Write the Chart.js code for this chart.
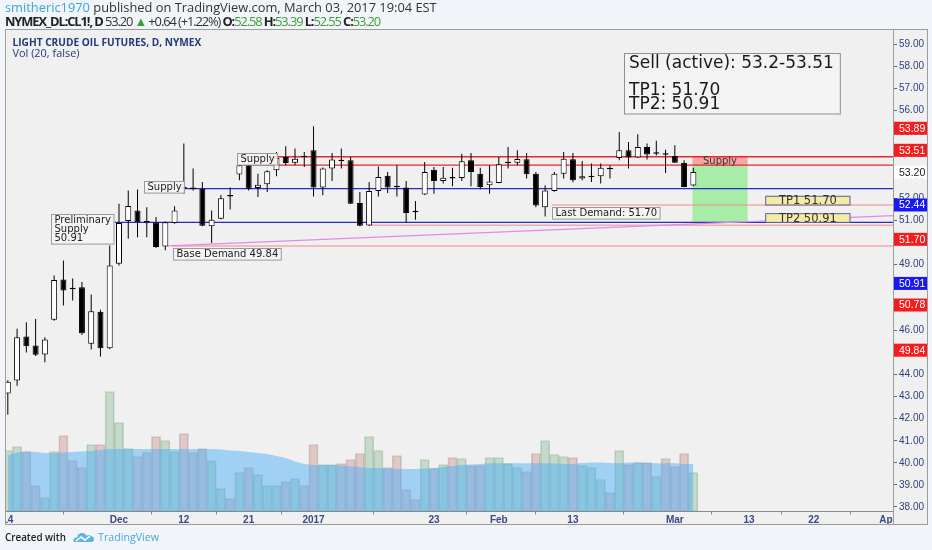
<!DOCTYPE html>
<html><head><meta charset="utf-8">
<script src="https://cdn.jsdelivr.net/npm/chart.js@4.4.1/dist/chart.umd.min.js"></script>
<style>
html,body{margin:0;padding:0;background:#f1f4f8;width:932px;height:550px;overflow:hidden;font-family:'Open Sans',sans-serif;}
#wrap{position:relative;width:932px;height:550px;}
canvas{position:absolute;left:0;top:0;}
.t{position:absolute;white-space:nowrap;}
.g{color:#3c9d3c;}
</style></head>
<body><div id="wrap">
<canvas id="c" width="932" height="550" style="width:932px;height:550px"></canvas>
<div id="row1" class="t fit" data-w="432" style="left:5px;top:0px;font-size:12px;line-height:14px;color:#333"><span style="color:#3fa4da">smitheric1970</span> published on TradingView.com, March 03, 2017 19:04 EST</div>
<div id="row2" class="t" data-w="375" style="left:5px;top:13.5px;font-size:12px;line-height:14px;color:#333"><b style="color:#222">NYMEX_DL:CL1!, D</b> 53.20 <span class="g">▲</span> +0.64 (+1.22%) <b style="color:#222">O:</b><span class="g">52.58</span> <b style="color:#222">H:</b><span class="g">53.39</span> <b style="color:#222">L:</b><span class="g">52.55</span> <b style="color:#222">C:</b><span class="g">53.20</span></div>
<div class="t fit" data-w="189" style="left:12.5px;top:36px;font-size:10px;line-height:12px;font-weight:bold;color:#233b77">LIGHT CRUDE OIL FUTURES, D, NYMEX</div>
<div class="t fit" data-w="67" style="left:12.5px;top:47px;font-size:10.5px;line-height:12px;color:#233b77">Vol (20, false)</div>
<div class="t fit" data-w="61" style="left:5px;top:530px;font-size:10.5px;line-height:14px;color:#222;font-weight:600">Created with</div>
<svg class="t" style="left:73px;top:530px" width="22" height="14" viewBox="0 0 22 14">
<path d="M2 12 Q0 12 0.5 9.5 Q1.5 7 4 7.5 Q5 3 9 3 Q12.5 3 13.5 6 Q15 4.5 17 5.5 Q21.5 6.5 21 10 Q20.5 12 18.5 12 Z" fill="#5db3e4"/>
<path d="M3 11 L8 7 L12 10 L17 6" stroke="#fff" stroke-width="1.6" fill="none"/>
</svg>
<div class="t fit" data-w="61" style="left:98px;top:530px;font-size:11px;line-height:14px;color:#49a9dc">TradingView</div>
</div>
<script>
// fit header/footer texts to the widths they occupy in the reference
document.querySelectorAll('.fit').forEach(el => {
  const target = +el.dataset.w;
  for (let k = 0; k < 3; k++) {
    const w = el.getBoundingClientRect().width;
    const fs = parseFloat(getComputedStyle(el).fontSize);
    if (w > 0) el.style.fontSize = (fs * target / w).toFixed(2) + 'px';
  }
});
(function(){
  const r1 = document.getElementById('row1'), r2 = document.getElementById('row2');
  r2.style.fontSize = getComputedStyle(r1).fontSize;
  const w = r2.getBoundingClientRect().width, n = r2.textContent.length;
  r2.style.letterSpacing = ((+r2.dataset.w - w) / n).toFixed(3) + 'px';
})();

// ---------- data ----------
const dates = [
 '2016-11-14','2016-11-15','2016-11-16','2016-11-17','2016-11-18','2016-11-21','2016-11-22','2016-11-23','2016-11-25','2016-11-28','2016-11-29','2016-11-30',
 '2016-12-01','2016-12-02','2016-12-05','2016-12-06','2016-12-07','2016-12-08','2016-12-09','2016-12-12','2016-12-13','2016-12-14','2016-12-15','2016-12-16',
 '2016-12-19','2016-12-20','2016-12-21','2016-12-22','2016-12-23','2016-12-27','2016-12-28','2016-12-29','2016-12-30',
 '2017-01-03','2017-01-04','2017-01-05','2017-01-06','2017-01-09','2017-01-10','2017-01-11','2017-01-12','2017-01-13','2017-01-17','2017-01-18','2017-01-19','2017-01-20',
 '2017-01-23','2017-01-24','2017-01-25','2017-01-26','2017-01-27','2017-01-30','2017-01-31',
 '2017-02-01','2017-02-02','2017-02-03','2017-02-06','2017-02-07','2017-02-08','2017-02-09','2017-02-10','2017-02-13','2017-02-14','2017-02-15','2017-02-16','2017-02-17',
 '2017-02-21','2017-02-22','2017-02-23','2017-02-24','2017-02-27','2017-02-28',
 '2017-03-01','2017-03-02','2017-03-03',
 '2017-03-06','2017-03-07','2017-03-08','2017-03-09','2017-03-10','2017-03-13','2017-03-14','2017-03-15','2017-03-16','2017-03-17',
 '2017-03-20','2017-03-21','2017-03-22','2017-03-23','2017-03-24','2017-03-27','2017-03-28','2017-03-29','2017-03-30','2017-03-31','2017-04-03'
];
const opens = [
 43.15,43.73,45.73,45.32,44.91,46.49,48.32,47.90,47.97,45.40,
 46.86,45.20,49.03,50.97,51.45,50.94,50.90,49.82,50.88,52.52,
 52.46,52.44,50.73,51.08,52.10,53.08,53.53,52.47,52.64,53.27,
 53.88,53.62,53.89,54.18,52.49,53.35,53.72,53.73,51.79,50.77,
 52.33,53.03,52.54,52.49,51.39,52.17,53.30,52.79,52.94,52.92,
 53.73,53.12,52.59,52.70,53.59,53.62,53.77,53.12,51.60,52.33,
 53.12,53.77,52.90,52.96,53.00,53.39,53.83,54.18,53.85,54.33,
 54.02,54.02,53.92,53.62,52.58];
const highs = [
 43.75,46.08,46.38,46.53,45.70,48.50,49.18,48.36,48.20,47.64,
 46.94,49.86,51.76,52.36,52.40,51.60,51.15,50.95,51.64,54.49,
 53.35,52.74,51.45,52.15,52.49,53.58,53.73,53.12,53.27,54.10,
 54.36,54.26,54.10,55.27,53.40,54.06,54.26,53.88,52.29,52.74,
 53.45,53.20,53.50,52.79,51.88,53.65,53.42,53.42,53.39,54.03,
 54.06,53.39,53.50,53.88,54.33,54.18,54.06,53.20,52.60,53.20,
 54.10,54.06,53.70,53.58,53.58,53.50,55.01,54.56,54.91,54.49,
 54.61,54.21,54.41,53.73,53.39];
const lows = [
 42.18,43.50,45.00,44.85,44.56,46.45,47.14,47.36,45.80,45.14,
 44.82,45.15,48.95,50.17,50.24,50.24,49.75,49.64,50.85,52.21,
 52.36,50.73,49.97,51.05,51.49,52.82,52.36,52.06,52.29,53.00,
 53.50,53.50,53.42,52.09,52.14,52.79,53.35,51.74,50.74,50.75,
 52.09,52.24,52.09,50.91,51.03,52.15,52.21,52.67,52.55,52.79,
 52.55,52.41,52.21,52.68,53.35,53.50,52.90,51.60,51.18,52.30,
 52.90,52.73,52.82,52.74,52.67,52.90,53.73,53.35,53.83,53.76,
 53.95,53.15,53.60,52.50,52.55];
const closes = [
 43.68,45.70,45.29,44.90,45.59,48.30,47.82,47.88,45.88,46.88,
 45.20,48.95,50.88,51.65,50.92,50.90,49.79,50.92,51.45,52.44,
 52.42,50.76,51.03,52.01,52.08,53.50,52.44,52.62,53.23,53.83,
 53.60,53.80,53.87,52.49,53.35,53.76,53.68,51.76,50.76,52.33,
 52.97,52.49,52.50,51.33,51.37,53.20,52.79,52.94,52.90,53.68,
 53.20,52.52,52.77,53.55,53.62,53.79,53.09,51.68,52.36,53.12,
 53.80,52.82,53.00,52.98,53.39,53.32,54.18,53.85,54.33,53.99,
 54.04,53.98,53.62,52.52,53.20];
const volume = [ // thousands of contracts
 305,325,300,130,70,300,380,255,220,335,
 335,600,445,315,275,295,375,355,300,390,
 295,315,255,115,65,195,220,185,130,130,
 150,165,130,335,235,235,240,260,290,375,
 305,220,280,110,60,260,215,235,270,265,
 230,230,270,270,240,220,200,290,355,285,
 275,270,230,220,160,95,305,235,245,245,
 175,265,225,290,195];
const volumeMA20 = [ // read from the shaded MA area
 280,295,300,297,292,291,295,297,300,302,
 307,312,313,313,313,313,313,313,313,313,
 313,313,313,310,305,302,297,292,287,277,
 267,250,237,233,233,232,230,225,222,218,
 217,215,213,213,213,215,217,222,227,232,
 235,237,241,241,241,241,241,241,241,240,
 238,238,242,245,245,242,241,245,245,242,
 241,241,241,238,238];
const xTickDates  = ['2016-11-14','2016-12-01','2016-12-12','2016-12-21','2017-01-03','2017-01-23','2017-02-01','2017-02-13','2017-03-01','2017-03-13','2017-03-22','2017-04-03'];
const xTickLabels = ['14','Dec','12','21','2017','23','Feb','13','Mar','13','22','Apr'];
const yTickValues = [38,39,40,41,42,43,44,45,46,47,48,49,50,51,52,53,54,55,56,57,58,59];

// drawn levels (price, start bar index, kind)
const levelPrices   = [53.89, 53.51, 52.44, 50.91, 51.70, 50.78, 49.84];
const levelStartIdx = [24.75, 24.75, 18.95, 11.55, 58.7, 39, 17.8];
const levelKinds    = ['supply','supply','key','key','demand','demand','demand'];
const trendStart = [17.3, 49.84];
const trendEnd   = [95.55, 51.22];
// zones [fromIdx, toIdx, topPrice, bottomPrice]
const supplyZone = [73.9, 79.85, 53.89, 53.51];
const targetZone = [73.9, 79.85, 53.51, 50.88];
// notes: text lines + anchor (bar index, price) at top-left
const noteTexts = [['Preliminary','Supply','50.91'], ['Supply'], ['Supply'], ['Base Demand 49.84'], ['Last Demand: 51.70']];
const noteAnchors = [[4.71, 51.30], [14.75, 52.79], [24.75, 54.08], [17.8, 49.74], [58.73, 51.60]];
const planText = ['Sell (active): 53.2-53.51', '', 'TP1: 51.70', 'TP2: 50.91'];
const planAnchor = [66.56, 58.60];
const tpTexts = ['TP1 51.70', 'TP2 50.91'];
const tpPrices = [51.70, 50.91];
const tpRange = [81.81, 90.91];
// price scale tags: value, kind, axis slot where the tag sits
const tagValues = [53.89, 53.51, 53.20, 52.44, 51.70, 50.91, 50.78, 49.84];
const tagKinds  = ['supply','supply','last','key','demand','key','demand','demand'];
const tagSlots  = [55.18, 54.18, 53.18, 51.70, 50.14, 48.14, 47.16, 45.11];

// ---------- styles ----------
const LINE_STYLE = {supply:{c:'rgba(228,30,34,0.95)', w:1.4}, key:{c:'#2a2ac4', w:1.4}, demand:{c:'rgba(240,150,150,0.75)', w:1.4}};
const TAG_STYLE = {supply:{bg:'#f41c1c', fg:'#fff'}, demand:{bg:'#f41c1c', fg:'#fff'}, key:{bg:'#1818f2', fg:'#fff'}, last:{bg:'#ffffff', fg:'#222'}};
const NOTE_FONT = "10px 'DejaVu Sans'";

const up = closes.map((c,i)=> c >= opens[i]);
const ctx = document.getElementById('c').getContext('2d');

const annot = {
  id:'annot',
  beforeDraw(chart){
    const c = chart.ctx; c.save();
    c.fillStyle = '#f0f0f0'; c.fillRect(5.5, 29.5, 922, 495);
    c.restore();
  },
  beforeDatasetsDraw(chart){
    const c = chart.ctx, xs = chart.scales.x, ys = chart.scales.y, a = chart.chartArea;
    c.save(); c.beginPath(); c.rect(a.left, a.top, a.right-a.left, a.bottom-a.top); c.clip();
    const zone = (z, col) => { const x0 = xs.getPixelForValue(z[0]), x1 = xs.getPixelForValue(z[1]);
      const y0 = ys.getPixelForValue(z[2]), y1 = ys.getPixelForValue(z[3]);
      c.fillStyle = col; c.fillRect(x0, y0, x1-x0, y1-y0); };
    zone(targetZone, 'rgba(0,230,0,0.3)');
    zone(supplyZone, 'rgba(255,60,60,0.42)');
    levelPrices.forEach((p,i)=>{
      const st = LINE_STYLE[levelKinds[i]]; const y = ys.getPixelForValue(p);
      c.strokeStyle = st.c; c.lineWidth = st.w; c.beginPath();
      c.moveTo(xs.getPixelForValue(levelStartIdx[i]), y); c.lineTo(a.right, y); c.stroke();
    });
    c.strokeStyle = '#e48ae4'; c.lineWidth = 1.2; c.beginPath();
    c.moveTo(xs.getPixelForValue(trendStart[0]), ys.getPixelForValue(trendStart[1]));
    c.lineTo(xs.getPixelForValue(trendEnd[0]), ys.getPixelForValue(trendEnd[1])); c.stroke();
    c.restore();
  },
  afterDatasetsDraw(chart){
    const c = chart.ctx, xs = chart.scales.x, ys = chart.scales.y;
    c.save();
    c.font = NOTE_FONT; c.fillStyle = '#333'; c.textAlign = 'center'; c.textBaseline = 'middle';
    c.fillText('Supply', (xs.getPixelForValue(supplyZone[0]) + xs.getPixelForValue(supplyZone[1]))/2,
      (ys.getPixelForValue(supplyZone[2]) + ys.getPixelForValue(supplyZone[3]))/2 + 0.5);
    noteTexts.forEach((lines, i) => {
      c.font = NOTE_FONT;
      const lh = 9, pv = 1.3, ph = 3;
      const w = Math.max(...lines.map(t => c.measureText(t).width)) + 2*ph;
      const h = lines.length*lh + 2*pv;
      const x = Math.round(xs.getPixelForValue(noteAnchors[i][0])) + 0.5, y = Math.round(ys.getPixelForValue(noteAnchors[i][1])) + 0.5;
      c.fillStyle = 'rgba(244,244,244,0.92)'; c.fillRect(x, y, w, h);
      c.strokeStyle = '#9a9a9a'; c.lineWidth = 1; c.strokeRect(x, y, w, h);
      c.fillStyle = '#222'; c.textAlign = 'left'; c.textBaseline = 'middle';
      lines.forEach((t, k) => c.fillText(t, x + ph, y + pv + lh*k + lh/2 + 0.5));
    });
    tpTexts.forEach((t, i) => {
      const x0 = xs.getPixelForValue(tpRange[0]), x1 = xs.getPixelForValue(tpRange[1]);
      const yb = ys.getPixelForValue(tpPrices[i]), h = 8.7;
      c.fillStyle = '#f4eca2'; c.fillRect(x0, yb-h, x1-x0, h);
      c.strokeStyle = '#5a5aa8'; c.lineWidth = 1; c.strokeRect(x0, yb-h, x1-x0, h);
      c.font = "11.5px 'DejaVu Sans'"; c.fillStyle = '#333'; c.textAlign = 'center'; c.textBaseline = 'middle';
      c.fillText(t, (x0+x1)/2, yb - h/2 + 0.8);
    });
    c.font = "17px 'DejaVu Sans'";
    const lh = 13.5, pv = 3.25, ph = 4.5;
    const w = Math.max(...planText.map(t => c.measureText(t).width)) + 2*ph + 2;
    const h = planText.length*lh + 2*pv;
    const px = Math.round(xs.getPixelForValue(planAnchor[0])) + 0.5, py = Math.round(ys.getPixelForValue(planAnchor[1])) + 0.5;
    c.fillStyle = 'rgba(242,242,242,0.95)'; c.fillRect(px, py, w, h);
    c.strokeStyle = '#8f8f8f'; c.lineWidth = 1; c.strokeRect(px, py, w, h);
    c.fillStyle = '#1a1a1a'; c.textAlign = 'left'; c.textBaseline = 'middle';
    planText.forEach((t, k) => c.fillText(t, px + ph, py + pv + lh*k + lh/2 + 0.5));
    c.restore();
  },
  afterDraw(chart){
    const c = chart.ctx, ys = chart.scales.y, a = chart.chartArea;
    c.save();
    c.fillStyle = '#f1f4f8'; c.fillRect(0, 29, 5.5, 500);
    c.fillStyle = '#f0f0f0'; c.fillRect(a.right+0.5, a.bottom+1, 30, 12.5);
    tagValues.forEach((v, i) => {
      const st = TAG_STYLE[tagKinds[i]]; const y = ys.getPixelForValue(tagSlots[i]);
      c.fillStyle = st.bg; c.fillRect(a.right + 1, y - 6.5, 34, 13);
      c.fillStyle = st.fg; c.font = "10.5px 'Liberation Sans'"; c.textAlign = 'left'; c.textBaseline = 'middle';
      c.fillText(v.toFixed(2), a.right + 6, y + 0.5);
    });
    c.strokeStyle = '#9c9c9c'; c.lineWidth = 1;
    c.strokeRect(5.5, 29.5, 922, 495);
    c.beginPath(); c.moveTo(a.right + 0.5, a.top); c.lineTo(a.right + 0.5, 524.5); c.stroke();
    c.restore();
  }
};

new Chart(ctx, {
  type: 'bar',
  data: { datasets: [
    { type:'bar', label:'Volume', yAxisID:'yv', order:4, grouped:false,
      data: volume.map((v,i)=>({x:i, y:v})),
      backgroundColor: up.map(u => u ? 'rgba(100,170,110,0.3)' : 'rgba(175,95,85,0.27)'),
      borderColor: up.map(u => u ? 'rgba(90,140,110,0.3)' : 'rgba(140,90,90,0.27)'),
      borderWidth: 1, borderSkipped:false, barPercentage:1, categoryPercentage:1 },
    { type:'line', label:'Vol MA 20', yAxisID:'yv', order:3,
      data: volumeMA20.map((v,i)=>({x:i, y:v})),
      fill:'origin', backgroundColor:'rgba(80,175,248,0.5)', borderWidth:0, pointRadius:0, tension:0 },
    { type:'bar', label:'Wick', yAxisID:'y', order:1, grouped:false,
      data: highs.map((h,i)=>({x:i, y:[lows[i], h]})),
      backgroundColor:'#000', barThickness:1, inflateAmount:0 },
    { type:'bar', label:'Body', yAxisID:'y', order:0, grouped:false,
      data: opens.map((o,i)=>({x:i, y:[o, closes[i]]})),
      backgroundColor: up.map(u => u ? '#ffffff' : '#000000'),
      borderColor:'#000', borderWidth:1, borderSkipped:false, barThickness:6, minBarLength:1.5, inflateAmount:0 }
  ]},
  options: {
    responsive:false, animation:false, devicePixelRatio:1,
    layout:{ padding:{ left:5.5, top:30, right:4, bottom:26 } },
    plugins:{ legend:{display:false}, tooltip:{enabled:false} },
    scales:{
      x:{ type:'linear', min:-0.25, max:95.55, offset:false, position:'bottom',
          afterBuildTicks: s => { s.ticks = xTickDates.map(d => ({ value: dates.indexOf(d) })); },
          afterFit: s => { s.height = 12.5; },
          ticks:{ autoSkip:false, maxRotation:0, padding:0, color:'#3a4a85',
                  font:{ family:'Liberation Sans', size:10, weight:'bold' },
                  callback: v => xTickLabels[xTickDates.indexOf(dates[v])] },
          grid:{ drawOnChartArea:false, drawTicks:true, tickLength:3, color:'#8a8a8a' },
          border:{ display:true, color:'#8a8a8a' } },
      y:{ type:'linear', position:'right', min:37.79, max:59.64,
          afterBuildTicks: s => { s.ticks = yTickValues.map(v => ({ value: v })); },
          afterFit: s => { s.width = 35; },
          ticks:{ autoSkip:false, padding:2, color:'#2f3f7a', font:{ family:'Liberation Sans', size:10 },
                  callback: v => Number(v).toFixed(2) },
          grid:{ drawOnChartArea:false, drawTicks:true, tickLength:4, color:'#666' },
          border:{ display:true, color:'#8a8a8a' } },
      yv:{ type:'linear', display:false, min:0, max:2407.5 }
    }
  },
  plugins:[annot]
});
</script>
</body></html>
